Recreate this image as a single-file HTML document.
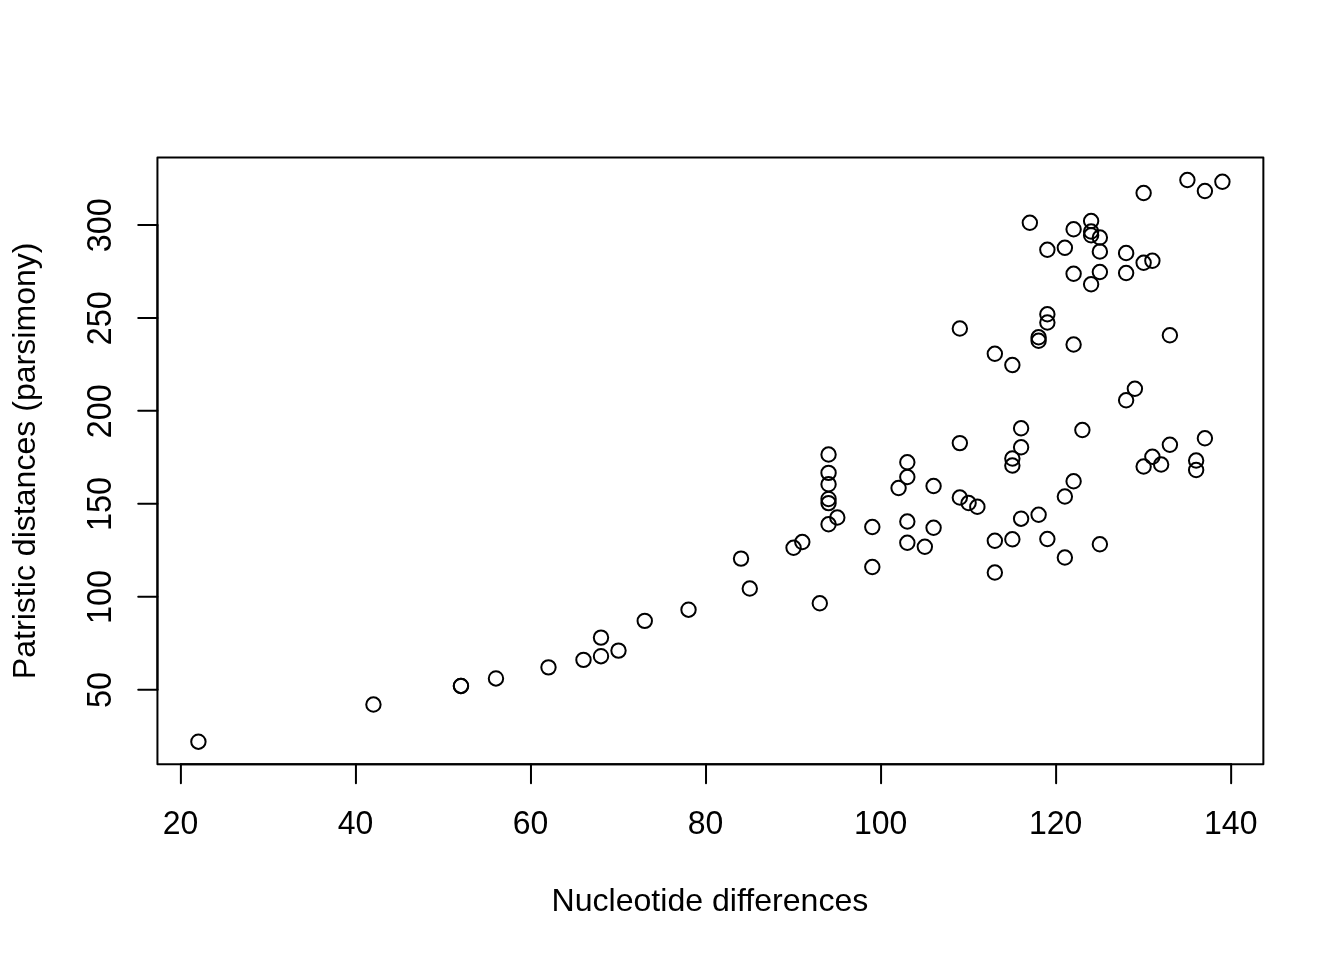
<!DOCTYPE html>
<html><head><meta charset="utf-8"><title>Plot</title>
<style>
html,body{margin:0;padding:0;background:#fff;}
svg{display:block;}
text{font-family:"Liberation Sans",sans-serif;font-size:32px;fill:#000;}
</style></head><body>
<svg width="1344" height="960" viewBox="0 0 1344 960">
<rect width="1344" height="960" fill="#fff"/>
<g fill="none" stroke="#000" stroke-width="2" stroke-linecap="round" stroke-linejoin="round">
<g><circle cx="198.40" cy="741.69" r="7.2"/><circle cx="373.44" cy="704.52" r="7.2"/><circle cx="460.96" cy="685.93" r="7.2"/><circle cx="460.96" cy="685.93" r="7.2"/><circle cx="495.97" cy="678.49" r="7.2"/><circle cx="548.49" cy="667.34" r="7.2"/><circle cx="583.49" cy="659.91" r="7.2"/><circle cx="601.00" cy="656.19" r="7.2"/><circle cx="601.00" cy="637.60" r="7.2"/><circle cx="618.50" cy="650.61" r="7.2"/><circle cx="644.76" cy="620.88" r="7.2"/><circle cx="688.52" cy="609.72" r="7.2"/><circle cx="741.03" cy="558.60" r="7.2"/><circle cx="749.78" cy="588.55" r="7.2"/><circle cx="793.55" cy="547.80" r="7.2"/><circle cx="802.30" cy="542.05" r="7.2"/><circle cx="819.80" cy="603.30" r="7.2"/><circle cx="828.55" cy="454.55" r="7.2"/><circle cx="828.55" cy="472.90" r="7.2"/><circle cx="828.55" cy="484.30" r="7.2"/><circle cx="828.55" cy="499.00" r="7.2"/><circle cx="828.55" cy="503.10" r="7.2"/><circle cx="828.55" cy="524.30" r="7.2"/><circle cx="837.31" cy="517.55" r="7.2"/><circle cx="872.31" cy="527.05" r="7.2"/><circle cx="872.31" cy="567.05" r="7.2"/><circle cx="898.57" cy="488.05" r="7.2"/><circle cx="907.32" cy="462.30" r="7.2"/><circle cx="907.32" cy="477.05" r="7.2"/><circle cx="907.32" cy="521.55" r="7.2"/><circle cx="907.32" cy="542.80" r="7.2"/><circle cx="924.83" cy="546.80" r="7.2"/><circle cx="933.58" cy="486.05" r="7.2"/><circle cx="933.58" cy="527.80" r="7.2"/><circle cx="959.84" cy="443.10" r="7.2"/><circle cx="959.84" cy="497.55" r="7.2"/><circle cx="968.59" cy="503.05" r="7.2"/><circle cx="977.34" cy="506.80" r="7.2"/><circle cx="994.84" cy="540.80" r="7.2"/><circle cx="994.84" cy="572.55" r="7.2"/><circle cx="1012.35" cy="458.55" r="7.2"/><circle cx="1012.35" cy="465.55" r="7.2"/><circle cx="1012.35" cy="539.30" r="7.2"/><circle cx="1021.10" cy="447.30" r="7.2"/><circle cx="1021.10" cy="518.70" r="7.2"/><circle cx="1021.10" cy="428.30" r="7.2"/><circle cx="1038.61" cy="514.80" r="7.2"/><circle cx="1047.36" cy="539.05" r="7.2"/><circle cx="1064.86" cy="496.55" r="7.2"/><circle cx="1064.86" cy="557.55" r="7.2"/><circle cx="1073.61" cy="481.30" r="7.2"/><circle cx="1082.37" cy="430.05" r="7.2"/><circle cx="1099.87" cy="544.30" r="7.2"/><circle cx="1126.13" cy="400.30" r="7.2"/><circle cx="1134.88" cy="388.80" r="7.2"/><circle cx="1143.63" cy="466.55" r="7.2"/><circle cx="1152.38" cy="456.80" r="7.2"/><circle cx="1161.14" cy="464.55" r="7.2"/><circle cx="1169.89" cy="444.80" r="7.2"/><circle cx="1196.14" cy="460.55" r="7.2"/><circle cx="1196.14" cy="470.05" r="7.2"/><circle cx="1204.90" cy="438.30" r="7.2"/><circle cx="959.84" cy="328.55" r="7.2"/><circle cx="994.84" cy="353.80" r="7.2"/><circle cx="1012.35" cy="365.05" r="7.2"/><circle cx="1029.85" cy="222.80" r="7.2"/><circle cx="1038.61" cy="337.30" r="7.2"/><circle cx="1038.61" cy="340.80" r="7.2"/><circle cx="1047.36" cy="314.30" r="7.2"/><circle cx="1047.36" cy="322.55" r="7.2"/><circle cx="1047.36" cy="249.80" r="7.2"/><circle cx="1064.86" cy="247.80" r="7.2"/><circle cx="1073.61" cy="229.30" r="7.2"/><circle cx="1073.61" cy="273.80" r="7.2"/><circle cx="1073.61" cy="344.55" r="7.2"/><circle cx="1091.12" cy="221.05" r="7.2"/><circle cx="1091.12" cy="231.55" r="7.2"/><circle cx="1091.12" cy="235.30" r="7.2"/><circle cx="1091.12" cy="284.30" r="7.2"/><circle cx="1099.87" cy="237.55" r="7.2"/><circle cx="1099.87" cy="251.55" r="7.2"/><circle cx="1099.87" cy="272.05" r="7.2"/><circle cx="1126.13" cy="253.05" r="7.2"/><circle cx="1126.13" cy="273.05" r="7.2"/><circle cx="1143.63" cy="262.80" r="7.2"/><circle cx="1152.38" cy="260.80" r="7.2"/><circle cx="1143.63" cy="193.05" r="7.2"/><circle cx="1187.39" cy="180.05" r="7.2"/><circle cx="1204.90" cy="191.05" r="7.2"/><circle cx="1222.40" cy="181.80" r="7.2"/><circle cx="1169.89" cy="335.30" r="7.2"/></g>
<line x1="180.90" y1="764.16" x2="1231.15" y2="764.16"/>
<line x1="180.90" y1="764.16" x2="180.90" y2="783.36"/><line x1="355.94" y1="764.16" x2="355.94" y2="783.36"/><line x1="530.98" y1="764.16" x2="530.98" y2="783.36"/><line x1="706.02" y1="764.16" x2="706.02" y2="783.36"/><line x1="881.07" y1="764.16" x2="881.07" y2="783.36"/><line x1="1056.11" y1="764.16" x2="1056.11" y2="783.36"/><line x1="1231.15" y1="764.16" x2="1231.15" y2="783.36"/>
<line x1="157.44" y1="689.65" x2="157.44" y2="224.98"/>
<line x1="157.44" y1="689.65" x2="138.24" y2="689.65"/><line x1="157.44" y1="596.71" x2="138.24" y2="596.71"/><line x1="157.44" y1="503.78" x2="138.24" y2="503.78"/><line x1="157.44" y1="410.85" x2="138.24" y2="410.85"/><line x1="157.44" y1="317.92" x2="138.24" y2="317.92"/><line x1="157.44" y1="224.98" x2="138.24" y2="224.98"/>
<rect x="157.44" y="157.44" width="1105.92" height="606.72"/>
</g>
<g><text transform="translate(180.50,834.3) scale(1,1.065)" text-anchor="middle">20</text><text transform="translate(355.54,834.3) scale(1,1.065)" text-anchor="middle">40</text><text transform="translate(530.58,834.3) scale(1,1.065)" text-anchor="middle">60</text><text transform="translate(705.62,834.3) scale(1,1.065)" text-anchor="middle">80</text><text transform="translate(880.67,834.3) scale(1,1.065)" text-anchor="middle">100</text><text transform="translate(1055.71,834.3) scale(1,1.065)" text-anchor="middle">120</text><text transform="translate(1230.75,834.3) scale(1,1.065)" text-anchor="middle">140</text></g>
<g><text transform="translate(111.25,689.95) rotate(-90) scale(1.012,1.08)" text-anchor="middle">50</text><text transform="translate(111.25,597.01) rotate(-90) scale(1.012,1.08)" text-anchor="middle">100</text><text transform="translate(111.25,504.08) rotate(-90) scale(1.012,1.08)" text-anchor="middle">150</text><text transform="translate(111.25,411.15) rotate(-90) scale(1.012,1.08)" text-anchor="middle">200</text><text transform="translate(111.25,318.22) rotate(-90) scale(1.012,1.08)" text-anchor="middle">250</text><text transform="translate(111.25,225.28) rotate(-90) scale(1.012,1.08)" text-anchor="middle">300</text></g>
<text transform="translate(709.9,911.3) scale(1.003,1)" text-anchor="middle">Nucleotide differences</text>
<text transform="translate(34.8,460.8) rotate(-90) scale(1.0025,1)" text-anchor="middle">Patristic distances (parsimony)</text>
</svg>
</body></html>
